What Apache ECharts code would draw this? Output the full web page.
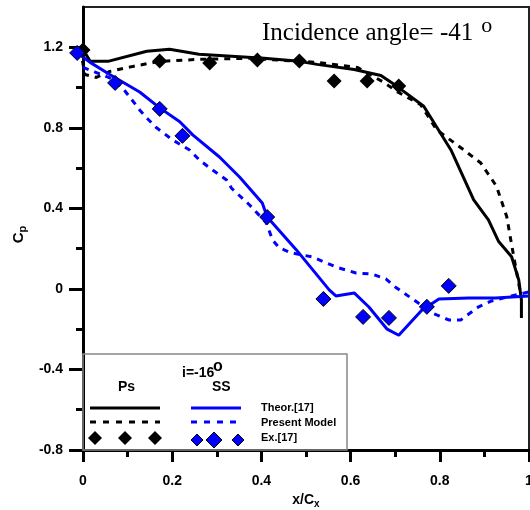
<!DOCTYPE html>
<html><head><meta charset="utf-8">
<script src="https://cdn.jsdelivr.net/npm/echarts@6/dist/echarts.min.js"></script>
<style>html,body{margin:0;padding:0;background:#fff}#c{width:530px;height:510px}</style>
</head><body><div id="c"></div>
<script>
// Pressure side, theory [17] (black solid)
const psTheorX = [0, 0.016, 0.056, 0.143, 0.194, 0.26, 0.406, 0.485, 0.525, 0.608, 0.668, 0.704, 0.764, 0.825, 0.876, 0.909, 0.932, 0.961, 0.977, 0.983, 0.983];
const psTheorY = [1.19, 1.13, 1.13, 1.18, 1.19, 1.165, 1.145, 1.13, 1.115, 1.09, 1.06, 1.006, 0.907, 0.69, 0.442, 0.343, 0.235, 0.16, 0.045, -0.055, -0.145];
// Pressure side, present model (black dashed)
const psModelX = [-0.01, 0.004, 0.03, 0.06, 0.112, 0.172, 0.26, 0.373, 0.525, 0.615, 0.675, 0.704, 0.757, 0.793, 0.854, 0.892, 0.927, 0.950, 0.961, 0.970, 0.98];
const psModelY = [1.25, 1.065, 1.05, 1.08, 1.105, 1.13, 1.14, 1.145, 1.125, 1.1, 1.025, 0.98, 0.915, 0.79, 0.69, 0.625, 0.51, 0.36, 0.22, 0.11, -0.01];
// Pressure side, experiment [17] (black diamonds)
const psExpX = [0, 0.172, 0.284, 0.391, 0.485, 0.563, 0.637, 0.708];
const psExpY = [1.187, 1.132, 1.122, 1.137, 1.132, 1.033, 1.033, 1.008];
// Suction side, theory [17] (blue solid)
const ssTheorX = [-0.013, 0.016, 0.06, 0.127, 0.172, 0.217, 0.246, 0.306, 0.351, 0.402, 0.413, 0.478, 0.552, 0.567, 0.608, 0.641, 0.682, 0.708, 0.76, 0.771, 0.798, 0.865, 0.925, 1.0];
const ssTheorY = [1.172, 1.125, 1.065, 0.978, 0.899, 0.83, 0.765, 0.655, 0.556, 0.427, 0.357, 0.195, -0.005, -0.035, -0.02, -0.09, -0.2, -0.23, -0.105, -0.09, -0.05, -0.045, -0.045, -0.035];
// Suction side, present model (blue dashed)
const ssModelX = [0, 0.027, 0.06, 0.087, 0.11, 0.127, 0.143, 0.165, 0.201, 0.239, 0.261, 0.29, 0.322, 0.333, 0.373, 0.411, 0.425, 0.44, 0.467, 0.514, 0.567, 0.612, 0.648, 0.679, 0.70, 0.742, 0.787, 0.82, 0.847, 0.887, 0.916, 0.961, 1.0];
const ssModelY = [1.10, 1.077, 1.048, 1.003, 0.938, 0.889, 0.849, 0.8, 0.74, 0.69, 0.64, 0.591, 0.541, 0.50, 0.418, 0.328, 0.243, 0.204, 0.179, 0.159, 0.109, 0.079, 0.074, 0.05, 0.01, -0.055, -0.124, -0.154, -0.154, -0.089, -0.06, -0.035, -0.015];
// Suction side, experiment [17] (blue diamonds)
const ssExpX = [-0.013, 0.072, 0.172, 0.223, 0.413, 0.539, 0.628, 0.686, 0.771, 0.820];
const ssExpY = [1.172, 1.023, 0.894, 0.760, 0.357, -0.05, -0.139, -0.144, -0.089, 0.015];

const yMajorTicks = [-0.8, -0.4, 0, 0.4, 0.8, 1.2];
const yMinorTicks = [-0.6, -0.2, 0.2, 0.6, 1.0];
const xMajorTicks = [0, 0.2, 0.4, 0.6, 0.8, 1];

const pairs = (xs, ys) => xs.map((x, i) => [x, ys[i]]);
const fmt = v => (Math.abs(v) < 1e-9 ? '0' : (Math.abs(v - 1) < 1e-9 ? '1' : v.toFixed(1)));

const labelFont = {fontFamily: 'Liberation Sans, Arial', fontWeight: 'bold', fontSize: 14, color: '#000'};
const chart = echarts.init(document.getElementById('c'), null, {renderer: 'canvas'});

const titleFont = '25px "Liberation Serif", "Times New Roman", serif';
const ctx = document.createElement('canvas').getContext('2d');
ctx.font = titleFont;
const titleW = ctx.measureText('Incidence angle= -41').width;

const legendFont = 'bold 11px "Liberation Sans", Arial';
const graphic = [
  {type: 'rect', shape: {x: 83, y: 354, width: 264, height: 96}, style: {fill: 'none', stroke: '#888', lineWidth: 1.5}, z: 1},
  {type: 'text', x: 182, y: 366, style: {text: 'i=-16', font: 'bold 14px "Liberation Sans", Arial', fill: '#000'}},
  {type: 'text', x: 213, y: 359, style: {text: 'o', font: 'bold 16px "Liberation Sans", Arial', fill: '#000'}},
  {type: 'text', x: 118, y: 380, style: {text: 'Ps', font: 'bold 14px "Liberation Sans", Arial', fill: '#000'}},
  {type: 'text', x: 212, y: 380, style: {text: 'SS', font: 'bold 14px "Liberation Sans", Arial', fill: '#000'}},
  {type: 'line', shape: {x1: 90, y1: 408, x2: 160, y2: 408}, style: {stroke: '#000', lineWidth: 3}},
  {type: 'line', shape: {x1: 90, y1: 422, x2: 160, y2: 422}, style: {stroke: '#000', lineWidth: 3, lineDash: [6, 7]}},
  {type: 'line', shape: {x1: 191, y1: 408, x2: 241, y2: 408}, style: {stroke: '#0000ff', lineWidth: 3}},
  {type: 'line', shape: {x1: 191, y1: 422, x2: 237, y2: 422}, style: {stroke: '#0000ff', lineWidth: 3, lineDash: [6, 7]}},
  {type: 'polygon', shape: {points: [[95, 431], [102, 438], [95, 445], [88, 438]]}, style: {fill: '#000'}},
  {type: 'polygon', shape: {points: [[125, 431], [132, 438], [125, 445], [118, 438]]}, style: {fill: '#000'}},
  {type: 'polygon', shape: {points: [[155, 431], [162, 438], [155, 445], [148, 438]]}, style: {fill: '#000'}},
  {type: 'polygon', shape: {points: [[197, 434], [203, 440], [197, 446], [191, 440]]}, style: {fill: '#0000ff', stroke: '#000', lineWidth: 1}},
  {type: 'polygon', shape: {points: [[214, 432], [222, 440], [214, 448], [206, 440]]}, style: {fill: '#0000ff', stroke: '#000', lineWidth: 1}},
  {type: 'polygon', shape: {points: [[238, 434], [244, 440], [238, 446], [232, 440]]}, style: {fill: '#0000ff', stroke: '#000', lineWidth: 1}},
  {type: 'text', x: 261, y: 402, style: {text: 'Theor.[17]', font: legendFont, fill: '#000'}},
  {type: 'text', x: 261, y: 417, style: {text: 'Present Model', font: legendFont, fill: '#000'}},
  {type: 'text', x: 261, y: 432, style: {text: 'Ex.[17]', font: legendFont, fill: '#000'}},
  {type: 'text', x: 262, y: 21, style: {text: 'Incidence angle= -41', font: titleFont, fill: '#000'}},
  {type: 'text', x: 262 + titleW + 8, y: 15, style: {text: 'o', font: '22px "Liberation Serif", "Times New Roman", serif', fill: '#000'}}
];

const option = {
  animation: false,
  backgroundColor: '#fff',
  grid: {left: 83, right: 1, top: 7, bottom: 60, containLabel: false, outerBoundsMode: 'none',
    show: true, borderColor: '#222', borderWidth: 2, backgroundColor: 'transparent'},
  xAxis: {
    type: 'value', min: 0, max: 1, interval: 0.2,
    name: 'x/C{s|x}', nameLocation: 'middle', nameGap: 38,
    nameTextStyle: {fontFamily: 'Liberation Sans, Arial', fontWeight: 'bold', fontSize: 14, color: '#000',
      rich: {s: {fontFamily: 'Liberation Sans, Arial', fontWeight: 'bold', fontSize: 10, color: '#000', padding: [8, 0, 0, 0]}}},
    axisLine: {show: true, onZero: false, lineStyle: {color: '#000', width: 3}},
    axisTick: {show: true, length: 12, lineStyle: {color: '#000', width: 3}},
    minorTick: {show: true, splitNumber: 2, length: 7, lineStyle: {color: '#000', width: 3}},
    axisLabel: Object.assign({margin: 24, formatter: fmt, customValues: xMajorTicks, showMaxLabel: true}, labelFont),
    splitLine: {show: false}
  },
  yAxis: [
    {
      type: 'value', min: -0.8, max: 1.4, position: 'left',
      name: 'C{s|p}', nameLocation: 'middle', nameGap: 55, nameRotate: 90,
      nameTextStyle: {fontFamily: 'Liberation Sans, Arial', fontWeight: 'bold', fontSize: 15, color: '#000', padding: [0, 12, 0, 0],
        rich: {s: {fontFamily: 'Liberation Sans, Arial', fontWeight: 'bold', fontSize: 11, color: '#000', padding: [8, 0, 0, 0]}}},
      axisLine: {show: true, onZero: false, lineStyle: {color: '#000', width: 3}},
      axisTick: {show: true, length: 14, customValues: yMajorTicks, lineStyle: {color: '#000', width: 3}},
      axisLabel: Object.assign({margin: 20, formatter: fmt, customValues: yMajorTicks}, labelFont),
      splitLine: {show: false}
    },
    {
      type: 'value', min: -0.8, max: 1.4, position: 'left',
      axisLine: {show: false},
      axisTick: {show: true, length: 7, customValues: yMinorTicks, lineStyle: {color: '#000', width: 3}},
      axisLabel: {show: false},
      splitLine: {show: false}
    }
  ],
  graphic: graphic,
  series: [
    {name: 'Ps Theor.[17]', type: 'line', data: pairs(psTheorX, psTheorY), symbol: 'none', clip: false, lineStyle: {color: '#000', width: 3}, z: 3},
    {name: 'Ps Present Model', type: 'line', data: pairs(psModelX, psModelY), symbol: 'none', clip: false, lineStyle: {color: '#000', width: 3, type: [6, 6]}, z: 3},
    {name: 'SS Theor.[17]', type: 'line', data: pairs(ssTheorX, ssTheorY), symbol: 'none', clip: false, lineStyle: {color: '#0000ff', width: 3}, z: 3},
    {name: 'SS Present Model', type: 'line', data: pairs(ssModelX, ssModelY), symbol: 'none', clip: false, lineStyle: {color: '#0000ff', width: 3, type: [6, 6]}, z: 3},
    {name: 'Ps Ex.[17]', type: 'scatter', data: pairs(psExpX, psExpY), symbol: 'diamond', symbolSize: 15, clip: false, itemStyle: {color: '#000', opacity: 1}, z: 4},
    {name: 'SS Ex.[17]', type: 'scatter', data: pairs(ssExpX, ssExpY), symbol: 'diamond', symbolSize: 15, clip: false, itemStyle: {color: '#0000ff', borderColor: '#000', borderWidth: 1, opacity: 1}, z: 4}
  ]
};
chart.setOption(option);
</script></body></html>
